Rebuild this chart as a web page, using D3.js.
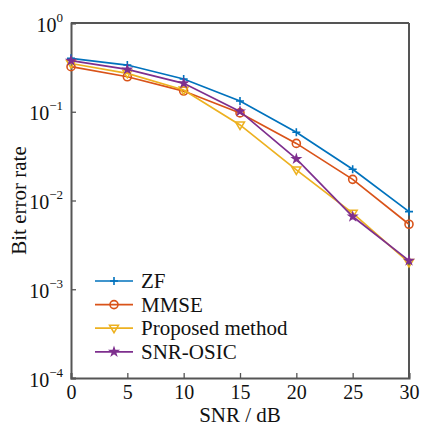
<!DOCTYPE html>
<html><head><meta charset="utf-8">
<script src="https://cdn.jsdelivr.net/npm/d3@7"></script>
<style>body{margin:0;background:#fff}svg{display:block}text{font-family:"Liberation Serif","Times New Roman",serif;fill:#111}</style>
</head><body><svg id="c" width="421" height="426"></svg>
<script>
const snr = [0, 5, 10, 15, 20, 25, 30];
const zf = [0.40, 0.336, 0.234, 0.132, 0.0587, 0.0225, 0.0075];
const mmse = [0.322, 0.248, 0.171, 0.097, 0.044, 0.0173, 0.0054];
const proposed = [0.35, 0.271, 0.176, 0.071, 0.0221, 0.0072, 0.0020];
const osic = [0.376, 0.30, 0.209, 0.101, 0.0294, 0.0066, 0.0021];
const seriesNames = ["ZF", "MMSE", "Proposed method", "SNR-OSIC"];
const xTicks = [0, 5, 10, 15, 20, 25, 30];
const yTickExps = [0, -1, -2, -3, -4];

const colors = ["#0072BD", "#D95319", "#EDB120", "#7E2F8E"];
const series = [zf, mmse, proposed, osic];
const svg = d3.select("#c");
const L = 71, R = 409, T = 23, B = 378;
const x = d3.scaleLinear().domain([0, 30]).range([L, R]);
const y = d3.scaleLog().domain([1e-4, 1]).range([B, T]);
const axisColor = "#555";

svg.append("line").attr("x1", L).attr("x2", R).attr("y1", T).attr("y2", T).attr("stroke", axisColor).attr("stroke-width", 2);
svg.append("line").attr("x1", R).attr("x2", R).attr("y1", T).attr("y2", B).attr("stroke", axisColor).attr("stroke-width", 2);

const gx = svg.append("g").attr("transform", `translate(0,${B})`)
  .call(d3.axisBottom(x).tickValues(xTicks).tickSize(-5).tickPadding(7).tickFormat(d3.format("d")));
gx.select(".domain").attr("stroke", axisColor).attr("stroke-width", 2);
gx.selectAll(".tick line").attr("stroke", axisColor).attr("stroke-width", 1.3);
gx.selectAll(".tick text").attr("font-size", 20).attr("font-family", "Liberation Serif").attr("fill", "#111");

const gy = svg.append("g").attr("transform", `translate(${L},0)`)
  .call(d3.axisLeft(y).tickValues(yTickExps.map(e => Math.pow(10, e))).tickSize(-5).tickFormat(""));
gy.select(".domain").attr("stroke", axisColor).attr("stroke-width", 2);
gy.selectAll(".tick line").attr("stroke", axisColor).attr("stroke-width", 1.3);
gy.selectAll(".tick").each(function(d, i) {
  const t = d3.select(this).append("text").attr("x", -8).attr("y", 8).attr("text-anchor", "end")
    .attr("font-size", 20).attr("fill", "#111");
  t.append("tspan").text("10");
  t.append("tspan").attr("dy", -10).attr("font-size", 13).text(yTickExps[i] === 0 ? "0" : "\u2212" + (-yTickExps[i]));
});

svg.append("text").attr("x", (L + R) / 2).attr("y", 422).attr("text-anchor", "middle").attr("font-size", 21).text("SNR / dB");
svg.append("text").attr("transform", `translate(26,${(T + B) / 2}) rotate(-90)`).attr("text-anchor", "middle").attr("font-size", 21).text("Bit error rate");

const line = d3.line().x((d, i) => x(snr[i])).y(d => y(d));

function marker(g, k, cx, cy) {
  const c = colors[k];
  if (k === 0) {
    g.append("path").attr("d", `M${cx - 4},${cy}H${cx + 4}M${cx},${cy - 4}V${cy + 4}`).attr("stroke", c).attr("stroke-width", 1.6).attr("fill", "none");
  } else if (k === 1) {
    g.append("circle").attr("cx", cx).attr("cy", cy).attr("r", 4).attr("stroke", c).attr("stroke-width", 1.6).attr("fill", "none");
  } else if (k === 2) {
    g.append("path").attr("d", `M${cx - 4.5},${cy - 3}L${cx + 4.5},${cy - 3}L${cx},${cy + 4.5}Z`).attr("stroke", c).attr("stroke-width", 1.5).attr("fill", "none");
  } else {
    g.append("path").attr("transform", `translate(${cx},${cy})`).attr("d", d3.symbol(d3.symbolStar, 22)()).attr("fill", c).attr("stroke", c).attr("stroke-width", 1.2);
  }
}

series.forEach((s, k) => {
  const g = svg.append("g");
  g.append("path").datum(s).attr("d", line).attr("fill", "none").attr("stroke", colors[k]).attr("stroke-width", 1.7);
  s.forEach((v, i) => marker(g, k, x(snr[i]), y(v)));
});

const legY0 = 281, legDy = 23.6;
seriesNames.forEach((n, k) => {
  const g = svg.append("g");
  const yy = legY0 + k * legDy;
  g.append("line").attr("x1", 95).attr("x2", 133).attr("y1", yy).attr("y2", yy).attr("stroke", colors[k]).attr("stroke-width", 1.7);
  marker(g, k, 114, yy);
  g.append("text").attr("x", 141).attr("y", yy + 7).attr("font-size", 21).text(n);
});
</script></body></html>
